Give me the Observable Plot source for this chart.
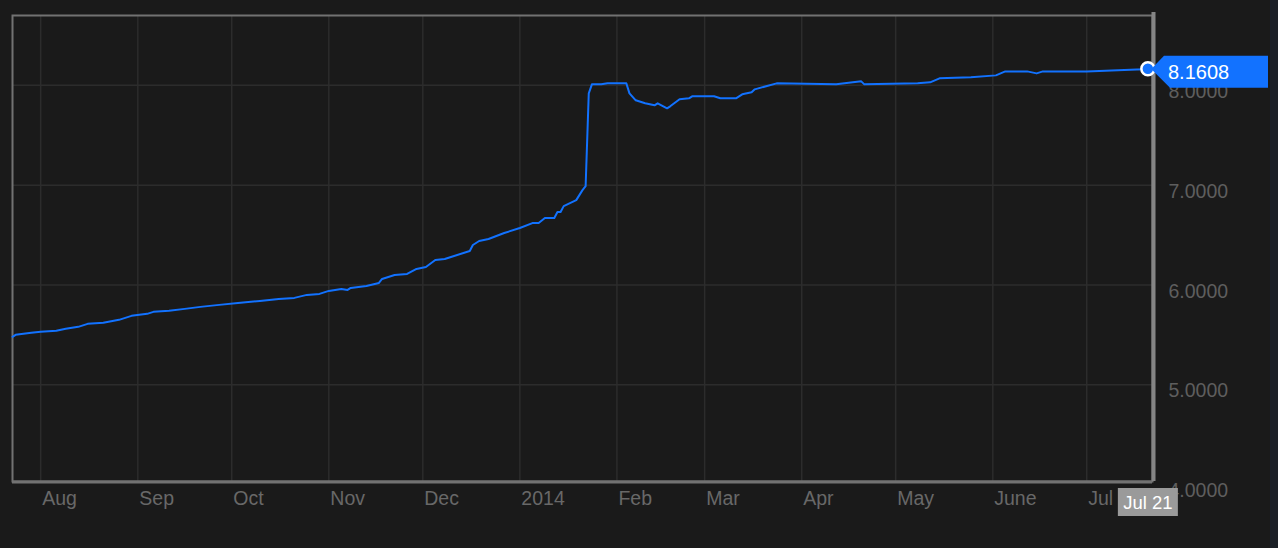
<!DOCTYPE html>
<html>
<head>
<meta charset="utf-8">
<script src="https://cdn.jsdelivr.net/npm/d3@7"></script>
<script src="https://cdn.jsdelivr.net/npm/@observablehq/plot@0.6"></script>
<style>
  html, body { margin: 0; padding: 0; }
  body { width: 1278px; height: 548px; overflow: hidden;
         background: linear-gradient(to right, #1a1a1a 1270px, #1c2027 1270px); }
  svg { display: block; }
</style>
</head>
<body>
<script>
// ---- data ----
const dates = [
  "2013-07-23","2013-07-24","2013-07-29","2013-08-01","2013-08-06","2013-08-09","2013-08-13","2013-08-16",
  "2013-08-21","2013-08-26","2013-08-30","2013-09-04","2013-09-06","2013-09-11","2013-09-16","2013-09-21",
  "2013-09-27","2013-10-03","2013-10-10","2013-10-16","2013-10-21","2013-10-25","2013-10-29","2013-11-01",
  "2013-11-05","2013-11-07","2013-11-08","2013-11-13","2013-11-17","2013-11-18","2013-11-22","2013-11-26",
  "2013-11-29","2013-12-02","2013-12-05","2013-12-08","2013-12-10","2013-12-16","2013-12-17","2013-12-19",
  "2013-12-22","2013-12-27","2014-01-01","2014-01-05","2014-01-07","2014-01-09","2014-01-12","2014-01-13",
  "2014-01-14","2014-01-15","2014-01-17","2014-01-19","2014-01-21","2014-01-22","2014-01-23","2014-01-24",
  "2014-01-27","2014-01-29","2014-02-04","2014-02-05","2014-02-07","2014-02-10","2014-02-13","2014-02-14",
  "2014-02-17","2014-02-18","2014-02-21","2014-02-24","2014-02-25","2014-03-04","2014-03-06","2014-03-11",
  "2014-03-13","2014-03-16","2014-03-17","2014-03-24","2014-04-12","2014-04-20","2014-04-21","2014-05-08",
  "2014-05-12","2014-05-15","2014-05-25","2014-06-02","2014-06-05","2014-06-12","2014-06-15","2014-06-17",
  "2014-07-01","2014-07-17","2014-07-21"
];
const rates = [
  5.48,5.50,5.52,5.53,5.54,5.56,5.58,5.61,
  5.62,5.65,5.69,5.71,5.73,5.74,5.76,5.78,
  5.80,5.82,5.84,5.86,5.87,5.90,5.91,5.94,
  5.96,5.95,5.97,5.99,6.02,6.06,6.10,6.11,
  6.16,6.18,6.25,6.26,6.28,6.34,6.40,6.44,
  6.46,6.52,6.57,6.62,6.62,6.67,6.67,6.73,
  6.73,6.79,6.82,6.85,6.95,6.99,7.92,8.01,
  8.01,8.02,8.02,7.92,7.85,7.82,7.80,7.82,
  7.77,7.79,7.86,7.87,7.89,7.89,7.87,7.87,
  7.91,7.93,7.96,8.02,8.01,8.04,8.01,8.02,
  8.03,8.07,8.08,8.10,8.14,8.14,8.12,8.14,
  8.14,8.16,8.1608
];
const monthStarts = ["2013-08-01","2013-09-01","2013-10-01","2013-11-01","2013-12-01","2014-01-01",
                     "2014-02-01","2014-03-01","2014-04-01","2014-05-01","2014-06-01","2014-07-01"];
const monthLabels = ["Aug","Sep","Oct","Nov","Dec","2014","Feb","Mar","Apr","May","June","Jul"];
const yTicks = [4, 5, 6, 7, 8];
const yGrid = [5, 6, 7, 8];
const xDomain = ["2013-07-23", "2014-07-22"];
const yDomain = [4.03, 8.70];
const currentDateLabel = "Jul 21";

// ---- build ----
const data = dates.map((d, i) => ({date: new Date(d), value: rates[i]}));
const months = monthStarts.map(d => new Date(d));
const fmt = d3.format(".4f");
const BLUE = "#1272ff";

function badges(index, scales, values, dims) {
  const g = d3.create("svg:g").attr("text-anchor", "start");
  const last = data[data.length - 1];
  const cx = scales.x(last.date), cy = scales.y(last.value);
  const right = dims.width - dims.marginRight;
  const bottom = dims.height - dims.marginBottom;
  // end marker
  g.append("circle").attr("cx", cx - 1).attr("cy", cy).attr("r", 6.5)
    .attr("fill", BLUE).attr("stroke", "#fff").attr("stroke-width", 2.5);
  // value badge
  const tx = right;
  const pts = [[tx, cy - 0.5], [tx + 12, cy - 13], [dims.width - 10, cy - 13],
               [dims.width - 10, cy + 19], [tx + 18, cy + 19], [tx, cy + 1]];
  g.append("polygon").attr("points", pts.map(p => p.join(",")).join(" ")).attr("fill", BLUE);
  g.append("text").attr("x", tx + 16).attr("y", cy + 10).attr("text-anchor", "start")
    .attr("fill", "#fff").attr("font-size", 20).text(fmt(last.value));
  // date badge
  g.append("rect").attr("x", cx - 31).attr("y", bottom + 7).attr("width", 60).attr("height", 28)
    .attr("fill", "#9a9a9a");
  g.append("text").attr("x", cx - 1).attr("y", bottom + 27.5).attr("text-anchor", "middle")
    .attr("fill", "#fff").attr("font-size", 18.5).text(currentDateLabel);
  return g.node();
}

const chart = Plot.plot({
  width: 1278,
  height: 548,
  marginLeft: 12,
  marginRight: 126,
  marginTop: 15,
  marginBottom: 67,
  x: {type: "utc", domain: xDomain.map(d => new Date(d)), axis: null},
  y: {domain: yDomain, axis: null},
  style: {background: "transparent", fontFamily: "'Liberation Sans', Arial, sans-serif", fontSize: "18px", overflow: "visible"},
  marks: [
    Plot.gridX(months, {stroke: "#2c2c2c", strokeOpacity: 1, strokeWidth: 1.5}),
    Plot.gridY(yGrid, {stroke: "#2c2c2c", strokeOpacity: 1, strokeWidth: 1.5}),
    Plot.frame({stroke: "#727272", strokeWidth: 2}),
    Plot.ruleX([new Date(xDomain[1])], {stroke: "#858585", strokeWidth: 4, dx: 1, y1: yDomain[0], y2: yDomain[1] + 0.03}),
    Plot.ruleY([yDomain[0]], {stroke: "#727272", strokeWidth: 3, dy: 0.5}),
    Plot.line(data, {x: "date", y: "value", stroke: BLUE, strokeWidth: 2}),
    Plot.text(months, {x: d => d, frameAnchor: "bottom", text: (d, i) => monthLabels[i],
      textAnchor: "start", dx: 1.5, dy: 17.5, lineAnchor: "middle", fill: "#686868", fontSize: 19.5}),
    Plot.text(yTicks, {y: d => d, frameAnchor: "right", text: d => fmt(d),
      textAnchor: "start", dx: 16, dy: 6.5, lineAnchor: "middle", fill: "#5e5e5e", fontSize: 19.5}),
    badges
  ]
});
document.body.appendChild(chart);
</script>
</body>
</html>
